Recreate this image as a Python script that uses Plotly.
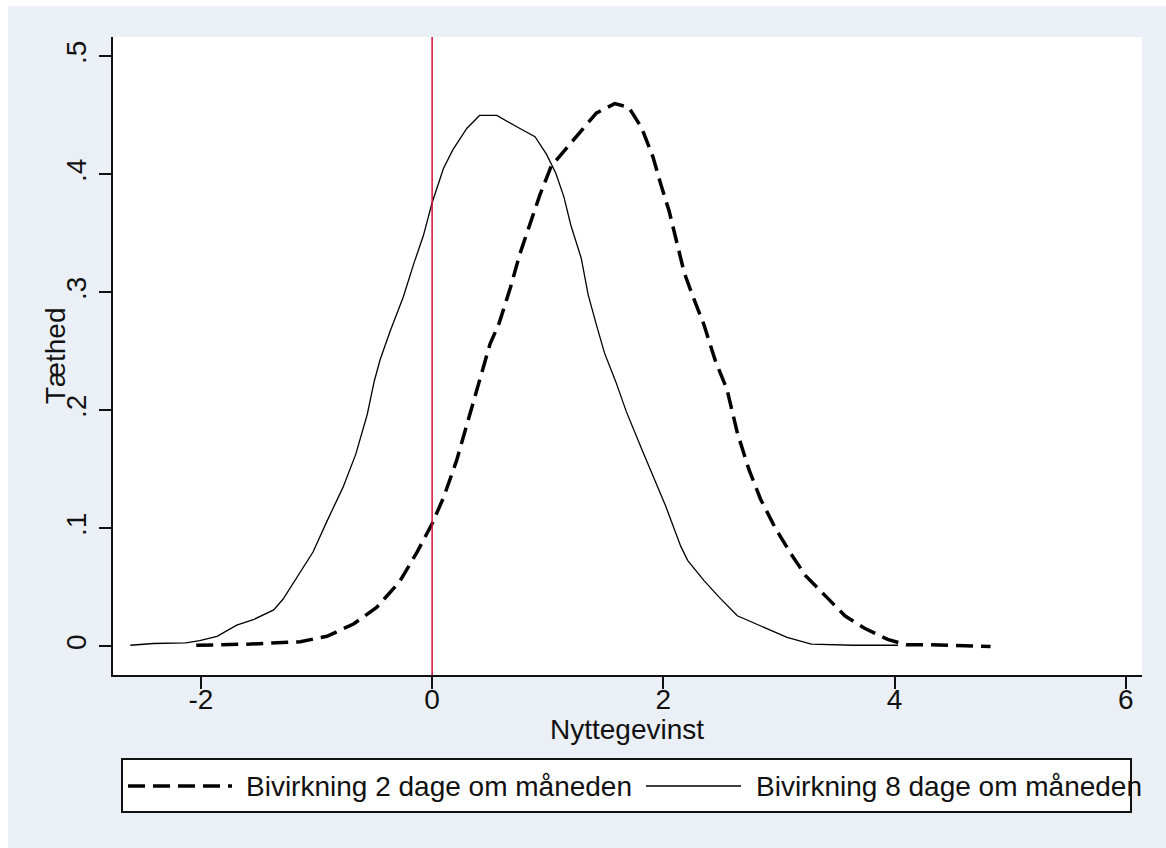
import plotly.graph_objects as go

# Kernel density estimates of the utility gain for two side-effect scenarios
series_names = ["Bivirkning 2 dage om måneden", "Bivirkning 8 dage om måneden"]

# Side effect 2 days per month (dashed)
x_2dage = [-2.04, -1.57, -1.14, -0.91, -0.68, -0.48, -0.28, -0.13, 0.0, 0.098,
           0.21, 0.33, 0.41, 0.50, 0.58, 0.68, 0.76, 0.85, 0.93, 1.03,
           1.22, 1.42, 1.58, 1.70, 1.81, 1.91, 1.98, 2.05, 2.12, 2.18,
           2.25, 2.35, 2.45, 2.55, 2.64, 2.74, 2.84, 2.97, 3.10, 3.23,
           3.41, 3.57, 3.74, 3.94, 4.10, 4.30, 4.83]
y_2dage = [0.001, 0.002, 0.004, 0.0086, 0.019, 0.033, 0.055, 0.080, 0.104, 0.126,
           0.157, 0.197, 0.225, 0.256, 0.274, 0.305, 0.333, 0.358, 0.382, 0.407,
           0.429, 0.452, 0.460, 0.457, 0.440, 0.415, 0.391, 0.369, 0.341, 0.317,
           0.298, 0.273, 0.242, 0.218, 0.181, 0.150, 0.125, 0.100, 0.079, 0.060,
           0.042, 0.026, 0.0154, 0.006, 0.0015, 0.0015, 0.000]

# Side effect 8 days per month (solid)
x_8dage = [-2.61, -2.41, -2.13, -2.01, -1.86, -1.69, -1.54, -1.37, -1.29, -1.14,
           -1.03, -0.91, -0.77, -0.66, -0.56, -0.50, -0.45, -0.36, -0.25, -0.16,
           -0.076, 0.0, 0.098, 0.18, 0.30, 0.41, 0.56, 0.74, 0.89, 0.99,
           1.07, 1.14, 1.20, 1.29, 1.35, 1.42, 1.49, 1.59, 1.68, 1.81,
           1.91, 2.02, 2.15, 2.21, 2.35, 2.48, 2.64, 2.81, 3.07, 3.28,
           3.64, 4.03]
y_8dage = [0.001, 0.0025, 0.003, 0.005, 0.0086, 0.018, 0.023, 0.031, 0.040, 0.063,
           0.080, 0.106, 0.135, 0.163, 0.197, 0.225, 0.243, 0.268, 0.296, 0.324,
           0.348, 0.376, 0.405, 0.421, 0.439, 0.450, 0.450, 0.440, 0.432, 0.417,
           0.401, 0.381, 0.357, 0.329, 0.298, 0.273, 0.249, 0.224, 0.199, 0.168,
           0.144, 0.119, 0.085, 0.073, 0.056, 0.042, 0.026, 0.0185, 0.0077, 0.002,
           0.001, 0.001]

x_ticks = [-2, 0, 2, 4, 6]
x_ticklabels = ["-2", "0", "2", "4", "6"]
y_ticks = [0, 0.1, 0.2, 0.3, 0.4, 0.5]
y_ticklabels = ["0", ".1", ".2", ".3", ".4", ".5"]
ref_line_x = 0

W, H = 1166, 848
ML, MR, MT, MB = 113, 24, 37, 173
PW, PH = W - ML - MR, H - MT - MB

def px(x):
    return (x - ML) / PW

def py(y):
    return (H - MB - y) / PH

FONT = "Liberation Sans, Arial, Helvetica, sans-serif"
INK = "#111111"
BG = "#EBF0F6"

fig = go.Figure()
fig.add_trace(go.Scatter(x=x_8dage, y=y_8dage, mode="lines", name=series_names[1],
                         line=dict(color="black", width=1.3), showlegend=False))
fig.add_trace(go.Scatter(x=x_2dage, y=y_2dage, mode="lines", name=series_names[0],
                         line=dict(color="black", width=3.5, dash="17px,8px"),
                         showlegend=False))

# vertical reference line at zero
fig.add_shape(type="line", xref="x", yref="paper", x0=ref_line_x, x1=ref_line_x,
              y0=0, y1=1, line=dict(color="#D0103A", width=1.5), layer="above")

# thin white border along top and left edges
fig.add_shape(type="rect", xref="paper", yref="paper", x0=px(0), x1=px(W),
              y0=py(6), y1=py(0), fillcolor="white", line=dict(width=0), layer="below")
fig.add_shape(type="rect", xref="paper", yref="paper", x0=px(0), x1=px(8),
              y0=py(H), y1=py(0), fillcolor="white", line=dict(width=0), layer="below")

# legend box
fig.add_shape(type="rect", xref="paper", yref="paper", x0=px(122), x1=px(1131),
              y0=py(812), y1=py(759), fillcolor="white",
              line=dict(color=INK, width=2), layer="above")
ly = py(786)
fig.add_shape(type="line", xref="paper", yref="paper", x0=px(128), x1=px(232),
              y0=ly, y1=ly, line=dict(color="black", width=3.5, dash="17px,8px"))
fig.add_shape(type="line", xref="paper", yref="paper", x0=px(646), x1=px(741),
              y0=ly, y1=ly, line=dict(color="black", width=1.3))
fig.add_annotation(x=px(244), y=ly, xref="paper", yref="paper", text=series_names[0],
                   showarrow=False, xanchor="left", yanchor="middle",
                   font=dict(size=28, color=INK, family=FONT))
fig.add_annotation(x=px(754), y=ly, xref="paper", yref="paper", text=series_names[1],
                   showarrow=False, xanchor="left", yanchor="middle",
                   font=dict(size=28, color=INK, family=FONT))

# axis titles
fig.add_annotation(x=px(627), y=py(729), xref="paper", yref="paper", text="Nyttegevinst",
                   showarrow=False, xanchor="center", yanchor="middle",
                   font=dict(size=28, color=INK, family=FONT))
fig.add_annotation(x=px(55), y=py(356), xref="paper", yref="paper", text="Tæthed",
                   showarrow=False, xanchor="center", yanchor="middle", textangle=-90,
                   font=dict(size=28, color=INK, family=FONT))

fig.update_layout(
    width=W, height=H,
    margin=dict(l=ML, r=MR, t=MT, b=MB, pad=0),
    paper_bgcolor=BG, plot_bgcolor="white",
    font=dict(family=FONT, size=28, color=INK),
    showlegend=False,
    xaxis=dict(range=[-2.76, 6.14], tickvals=x_ticks, ticktext=x_ticklabels,
               ticks="outside", ticklen=12, ticklabelstandoff=-14,
               tickwidth=2, tickcolor=INK, showline=True, linewidth=2, linecolor=INK,
               showgrid=False, zeroline=False, tickfont=dict(size=28)),
    yaxis=dict(range=[-0.0242, 0.5165], tickvals=y_ticks, ticktext=y_ticklabels,
               tickangle=-90, ticks="outside", ticklen=12, ticklabelstandoff=2,
               tickwidth=2, tickcolor=INK,
               showline=True, linewidth=2, linecolor=INK, showgrid=False,
               zeroline=False, tickfont=dict(size=28)),
)

fig.write_html("out.html")
